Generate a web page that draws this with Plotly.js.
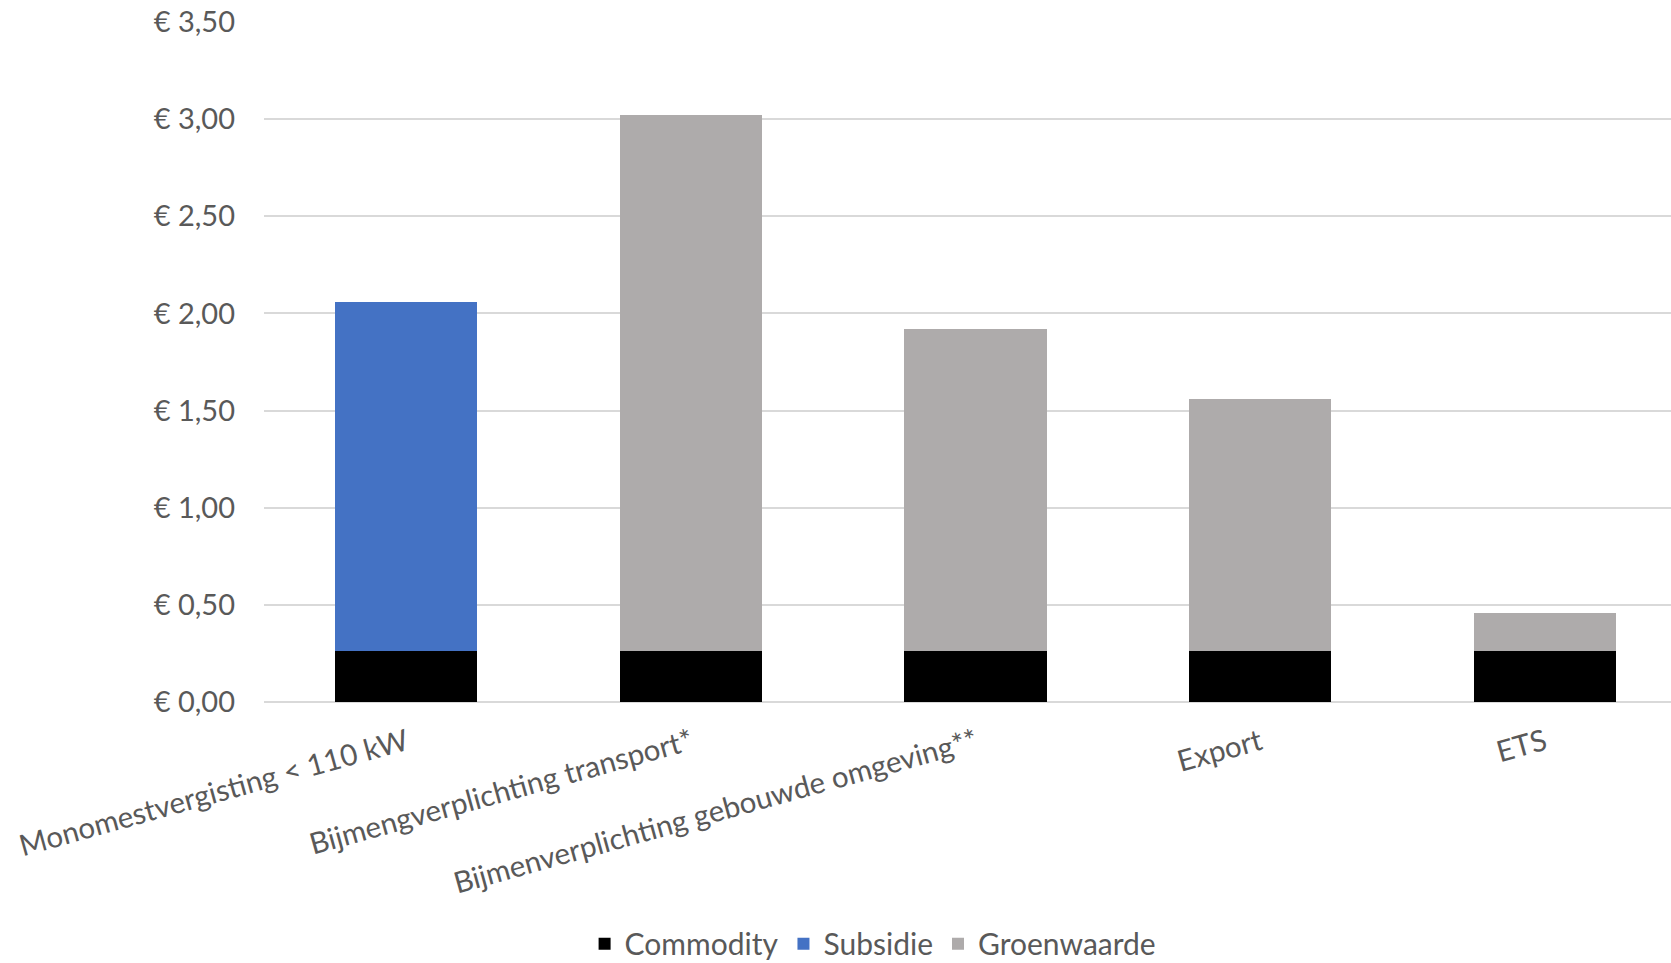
<!DOCTYPE html>
<html>
<head>
<meta charset="utf-8">
<script src="https://cdn.plot.ly/plotly-3.0.1.min.js"></script>
<style>html,body{margin:0;padding:0;background:#fff;}#chart{width:1671px;height:963px;}</style>
</head>
<body>
<div id="chart"></div>
<script>
var categories = ["Monomestvergisting < 110 kW", "Bijmengverplichting transport*", "Bijmenverplichting gebouwde omgeving**", "Export", "ETS"];
var commodity = [0.26, 0.26, 0.26, 0.26, 0.26];
var subsidie = [1.80, 0, 0, 0, 0];
var groenwaarde = [0, 2.76, 1.66, 1.30, 0.20];
var yTickVals = [0, 0.5, 1, 1.5, 2, 2.5, 3, 3.5];
var yTickText = ["€ 0,00", "€ 0,50", "€ 1,00", "€ 1,50", "€ 2,00", "€ 2,50", "€ 3,00", "€ 3,50"];

var font = "Lato, 'Open Sans', sans-serif";
var traces = [
  {type: "bar", name: "Commodity", x: categories, y: commodity, marker: {color: "#000000"}},
  {type: "bar", name: "Subsidie", x: categories, y: subsidie, marker: {color: "#4472C4"}},
  {type: "bar", name: "Groenwaarde", x: categories, y: groenwaarde, marker: {color: "#AEABAB"}}
];
var layout = {
  width: 1671, height: 963,
  barmode: "stack",
  bargap: 0.5,
  paper_bgcolor: "#ffffff", plot_bgcolor: "#ffffff",
  margin: {l: 264, r: 0, t: 22, b: 261},
  font: {family: font, color: "#595959", size: 29},
  xaxis: {
    type: "category",
    range: [-0.5, 4.444],
    tickangle: -15.5,
    tickfont: {family: font, size: 29.5, color: "#595959"},
    showgrid: false, showline: false, ticks: "",
    ticklabelstandoff: 17,
    automargin: false,
    fixedrange: true
  },
  yaxis: {
    range: [0, 3.5],
    tickvals: yTickVals, ticktext: yTickText,
    tickfont: {family: font, size: 29, color: "#595959"},
    gridcolor: "#D9D9D9", gridwidth: 2,
    zeroline: true, zerolinecolor: "#D9D9D9", zerolinewidth: 2,
    showline: false, ticks: "",
    ticklabelstandoff: 28,
    automargin: false,
    fixedrange: true
  },
  showlegend: true,
  legend: {
    orientation: "h", traceorder: "normal",
    xref: "container", yref: "container",
    x: 0.5225, xanchor: "center", y: 0.02, yanchor: "middle",
    font: {family: font, size: 30, color: "#595959"},
    itemwidth: 30
  }
};
Plotly.newPlot("chart", traces, layout, {displayModeBar: false, staticPlot: true});
</script>
</body>
</html>
